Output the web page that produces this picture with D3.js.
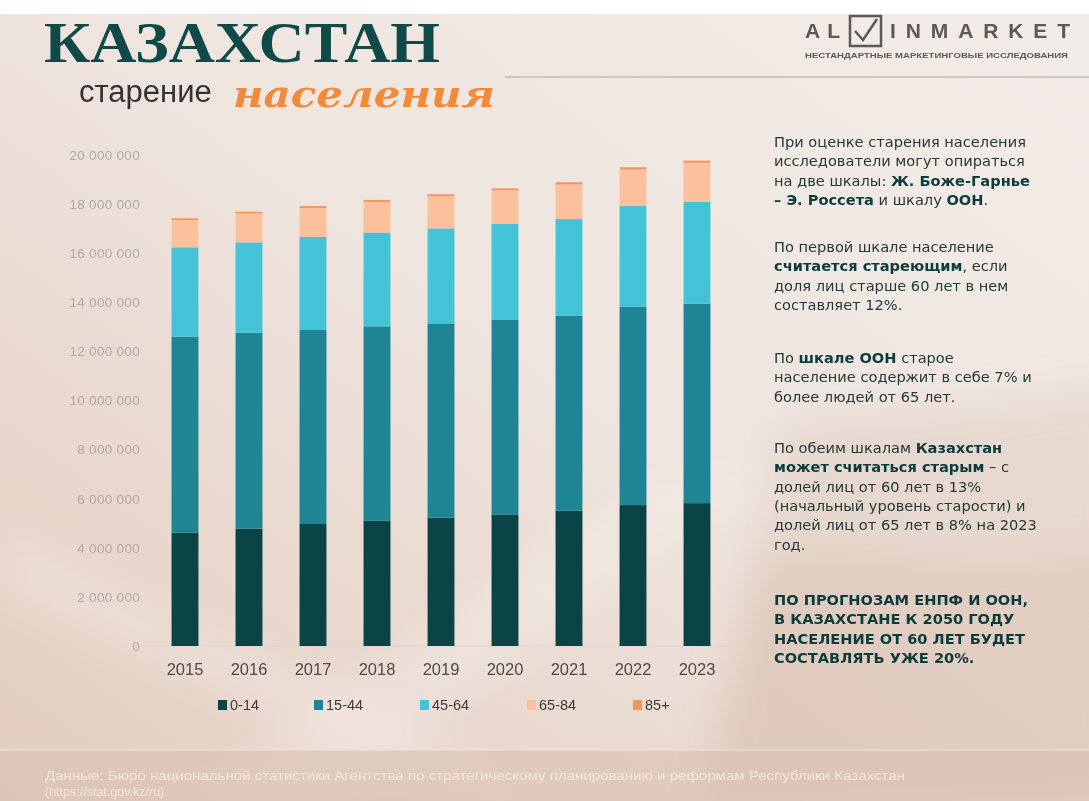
<!doctype html>
<html lang="ru">
<head>
<meta charset="utf-8">
<title>Казахстан: старение населения</title>
<style>
  html, body { margin: 0; padding: 0; background: #fff; }
  svg { display: block; }
</style>
</head>
<body>
<script src="https://cdn.jsdelivr.net/npm/d3@7"></script>
<script>

// --- data (persons) ---
var years    = ["2015", "2016", "2017", "2018", "2019", "2020", "2021", "2022", "2023"];
var groups   = ["0-14", "15-44", "45-64", "65-84", "85+"];
var age0_14  = [4620000, 4780000, 4970000, 5100000, 5230000, 5360000, 5510000, 5740000, 5820000];
var age15_44 = [7980000, 7980000, 7900000, 7920000, 7910000, 7920000, 7940000, 8080000, 8120000];
var age45_64 = [3640000, 3680000, 3790000, 3820000, 3870000, 3910000, 3940000, 4100000, 4150000];
var age65_84 = [1110000, 1180000, 1180000, 1250000, 1310000, 1370000, 1410000, 1490000, 1590000];
var age85    = [70000, 70000, 80000, 80000, 80000, 80000, 90000, 90000, 90000];
var yTicks   = [0, 2000000, 4000000, 6000000, 8000000, 10000000, 12000000, 14000000, 16000000, 18000000, 20000000];

var colors = ["#0b4446", "#1f8494", "#44c2d7", "#fcc09c", "#f2955f"];

var W = 1089, H = 801;

var svg = d3.select("body").append("svg")
    .attr("width", W)
    .attr("height", H);

// background
var defs = svg.append("defs");
var bg = defs.append("linearGradient").attr("id", "bg")
    .attr("x1", 1).attr("y1", 0).attr("x2", 0).attr("y2", 1);
bg.append("stop").attr("offset", 0).attr("stop-color", "#f2ece8");
bg.append("stop").attr("offset", 0.45).attr("stop-color", "#efe5df");
bg.append("stop").attr("offset", 1).attr("stop-color", "#e3cdbf");
defs.append("filter").attr("id", "soft")
    .attr("x", "-20%").attr("y", "-20%").attr("width", "140%").attr("height", "140%")
    .append("feGaussianBlur").attr("stdDeviation", 18);

svg.append("rect").attr("width", W).attr("height", H).attr("fill", "#fff");
svg.append("rect").attr("y", 14).attr("width", W).attr("height", H - 14).attr("fill", "url(#bg)");

// soft diagonal streaks
var streaks = svg.append("g").attr("filter", "url(#soft)");
streaks.append("path")
    .attr("d", "M0,520 L560,800 L470,801 L0,600 Z")
    .attr("fill", "#ffffff").attr("opacity", 0.2);
streaks.append("path")
    .attr("d", "M170,801 L660,470 L760,480 L330,801 Z")
    .attr("fill", "#ffffff").attr("opacity", 0.2);
streaks.append("path")
    .attr("d", "M780,430 C880,400 980,420 1120,380 L1120,801 L700,801 Z")
    .attr("fill", "#d9bfae").attr("opacity", 0.35);
streaks.append("path")
    .attr("d", "M760,570 C860,520 960,600 1120,540 L1120,801 L700,801 Z")
    .attr("fill", "#d3b6a4").attr("opacity", 0.3);

// footer band
svg.append("rect").attr("x", 0).attr("y", 750).attr("width", W).attr("height", 51)
    .attr("fill", "#d9c0b0").attr("opacity", 0.6);
svg.append("line").attr("x1", 0).attr("x2", W).attr("y1", 750).attr("y2", 750)
    .attr("stroke", "#f0e4dc").attr("stroke-width", 1);

// --- title ---
svg.append("text")
    .attr("x", 44).attr("y", 62)
    .attr("font-family", "Liberation Serif, DejaVu Serif, serif")
    .attr("font-weight", "bold")
    .attr("font-size", 58)
    .attr("fill", "#0f4948")
    .attr("textLength", 396)
    .attr("lengthAdjust", "spacingAndGlyphs")
    .text("КАЗАХСТАН");

svg.append("text")
    .attr("x", 79).attr("y", 102)
    .attr("font-family", "Liberation Sans, Arial, sans-serif")
    .attr("font-size", 31)
    .attr("fill", "#333")
    .text("старение");

svg.append("text")
    .attr("x", 233).attr("y", 107)
    .attr("font-family", "DejaVu Serif, serif")
    .attr("font-style", "italic")
    .attr("font-weight", "bold")
    .attr("font-size", 37)
    .attr("fill", "#f28a3c")
    .attr("textLength", 262)
    .attr("lengthAdjust", "spacingAndGlyphs")
    .text("населения");

// --- logo ---
var logo = svg.append("g").attr("fill", "#5a5a5a").attr("font-family", "Liberation Sans, Arial, sans-serif");
logo.append("text").attr("x", 805).attr("y", 38).attr("font-size", 21)
    .attr("font-weight", "bold")
    .attr("letter-spacing", 7).text("AL");
logo.append("rect").attr("x", 850).attr("y", 16).attr("width", 31).attr("height", 30)
    .attr("fill", "none").attr("stroke", "#5a5a5a").attr("stroke-width", 2.5);
logo.append("path").attr("d", "M855,31 L863,40 L877,19")
    .attr("fill", "none").attr("stroke", "#5a5a5a").attr("stroke-width", 2.5);
logo.append("text").attr("x", 890).attr("y", 38).attr("font-size", 21)
    .attr("font-weight", "bold")
    .attr("textLength", 180).attr("lengthAdjust", "spacing").text("INMARKET");
logo.append("text").attr("x", 805).attr("y", 58).attr("font-size", 7.2)
    .attr("font-weight", "bold")
    .attr("textLength", 263).attr("lengthAdjust", "spacingAndGlyphs")
    .text("НЕСТАНДАРТНЫЕ МАРКЕТИНГОВЫЕ ИССЛЕДОВАНИЯ");
svg.append("line").attr("x1", 505).attr("x2", W).attr("y1", 77).attr("y2", 77)
    .attr("stroke", "#a9a6a0").attr("stroke-width", 1.2);

// --- chart ---
var x = d3.scaleBand()
    .domain(years)
    .range([153, 729])
    .paddingInner(0.58)
    .paddingOuter(0.29);

var y = d3.scaleLinear()
    .domain([0, 20000000])
    .range([646, 155]);

var series = [age0_14, age15_44, age45_64, age65_84, age85];
var table = years.map(function(yr, i) {
    var row = { year: yr };
    groups.forEach(function(g, j) { row[g] = series[j][i]; });
    return row;
});
var stack = d3.stack().keys(groups)(table);

var fmt = d3.formatLocale({ decimal: ",", thousands: " ", grouping: [3], currency: ["", ""] }).format(",d");

// baseline
svg.append("line")
    .attr("x1", 130).attr("x2", 736)
    .attr("y1", y(0)).attr("y2", y(0))
    .attr("stroke", "#ddd3cd").attr("stroke-width", 1);

svg.append("g")
    .selectAll("g")
    .data(stack)
    .enter().append("g")
    .attr("fill", function(d, i) { return colors[i]; })
    .selectAll("rect")
    .data(function(d) { return d; })
    .enter().append("rect")
    .attr("x", function(d) { return x(d.data.year); })
    .attr("y", function(d) { return y(d[1]); })
    .attr("width", x.bandwidth())
    .attr("height", function(d) { return y(d[0]) - y(d[1]); });

var yAxis = svg.append("g")
    .attr("transform", "translate(148,0)")
    .call(d3.axisLeft(y).tickValues(yTicks).tickSize(0).tickPadding(8).tickFormat(fmt));
yAxis.select(".domain").remove();
yAxis.selectAll("text")
    .attr("font-family", "Liberation Sans, Arial, sans-serif")
    .attr("font-size", 13.5)
    .attr("letter-spacing", 0.3)
    .attr("fill", "#b1a9a5");

var xAxis = svg.append("g")
    .attr("transform", "translate(0," + y(0) + ")")
    .call(d3.axisBottom(x).tickSize(0).tickPadding(17));
xAxis.select(".domain").remove();
xAxis.selectAll("text")
    .attr("font-family", "Liberation Sans, Arial, sans-serif")
    .attr("font-size", 16.5)
    .attr("fill", "#4f4a48");

// legend
var legendX = [218, 314, 420, 527, 633];
var legend = svg.append("g").selectAll("g")
    .data(groups)
    .enter().append("g")
    .attr("transform", function(d, i) { return "translate(" + legendX[i] + ",700)"; });
legend.append("rect")
    .attr("width", 9).attr("height", 10)
    .attr("fill", function(d, i) { return colors[i]; });
legend.append("text")
    .attr("x", 12).attr("y", 10)
    .attr("font-family", "Liberation Sans, Arial, sans-serif")
    .attr("font-size", 14.5)
    .attr("fill", "#3f3b3a")
    .text(function(d) { return d; });

// --- right text ---
var paragraphs = [
    { y: 147, weightAll: false, lines: [
        [["При оценке старения населения"]],
        [["исследователи могут опираться"]],
        [["на две шкалы: "], ["Ж. Боже-Гарнье", 1]],
        [["– Э. Россета", 1], [" и шкалу "], ["ООН", 1], ["."]]
    ]},
    { y: 252, weightAll: false, lines: [
        [["По первой шкале население"]],
        [["считается стареющим", 1], [", если"]],
        [["доля лиц старше 60 лет в нем"]],
        [["составляет 12%."]]
    ]},
    { y: 363, weightAll: false, lines: [
        [["По "], ["шкале ООН", 1], [" старое"]],
        [["население содержит в себе 7% и"]],
        [["более людей от 65 лет."]]
    ]},
    { y: 453, weightAll: false, lines: [
        [["По обеим шкалам "], ["Казахстан", 1]],
        [["может считаться старым", 1], [" – с"]],
        [["долей лиц от 60 лет в 13%"]],
        [["(начальный уровень старости) и"]],
        [["долей лиц от 65 лет в 8% на 2023"]],
        [["год."]]
    ]},
    { y: 605, weightAll: true, lines: [
        [["ПО ПРОГНОЗАМ ЕНПФ И ООН,"]],
        [["В КАЗАХСТАНЕ К 2050 ГОДУ"]],
        [["НАСЕЛЕНИЕ ОТ 60 ЛЕТ БУДЕТ"]],
        [["СОСТАВЛЯТЬ УЖЕ 20%."]]
    ]}
];

var side = svg.append("g")
    .attr("font-family", "DejaVu Sans, Verdana, sans-serif")
    .attr("font-size", 14.6);

paragraphs.forEach(function(p) {
    p.lines.forEach(function(line, li) {
        var t = side.append("text")
            .attr("x", 774)
            .attr("y", p.y + li * 19.3)
            .attr("fill", "#233a3a");
        line.forEach(function(seg) {
            var bold = p.weightAll || seg[1];
            t.append("tspan")
                .attr("font-weight", bold ? "bold" : "normal")
                .attr("fill", bold ? "#0c3c3c" : "#233a3a")
                .text(seg[0]);
        });
    });
});

// --- source ---
var src = svg.append("g")
    .attr("font-family", "Liberation Sans, Arial, sans-serif")
    .attr("font-size", 12.5)
    .attr("fill", "#f3e6de");
src.append("text").attr("x", 45).attr("y", 780)
    .attr("textLength", 860).attr("lengthAdjust", "spacingAndGlyphs")
    .text("Данные: Бюро национальной статистики Агентства по стратегическому планированию и реформам Республики Казахстан");
src.append("text").attr("x", 45).attr("y", 796)
    .text("(https://stat.gov.kz/ru)");

</script>
</body>
</html>
